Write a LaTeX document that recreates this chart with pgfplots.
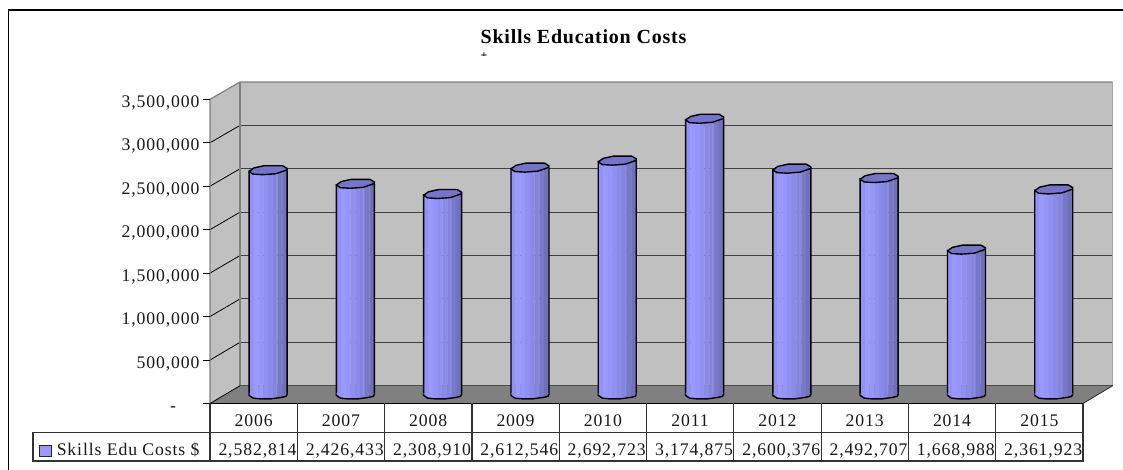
\documentclass[border=0pt]{standalone}
\usepackage{fontspec}
\setmainfont[LetterSpace=5]{Liberation Serif}
\newfontfamily\titlefont[LetterSpace=3.8]{Liberation Serif}
\usepackage{pgfplots}
\usepackage{pgfplotstable}
\pgfplotsset{compat=1.18}

\definecolor{wall}{HTML}{C0C0C0}
\definecolor{floorc}{HTML}{808080}
\definecolor{capc}{HTML}{7474C8}
\definecolor{sA}{HTML}{9292F4}
\definecolor{sB}{HTML}{9999FF}
\definecolor{sC}{HTML}{9696FA}
\definecolor{sD}{HTML}{9090F2}
\definecolor{sE}{HTML}{8A8AE8}
\definecolor{sF}{HTML}{8484DC}
\definecolor{sG}{HTML}{7878C8}
\definecolor{sH}{HTML}{7070BC}

\pgfplotstableread{
year cost
2006 2582814
2007 2426433
2008 2308910
2009 2612546
2010 2692723
2011 3174875
2012 2600376
2013 2492707
2014 1668988
2015 2361923
}\costs

% End cap and foot of an eight-sided column, in units of 0.75pt.
\pgfdeclareplotmark{cyltop}{%
  \path[x=.75pt,y=.75pt,fill=capc,draw=black,line width=1.05pt,line join=round]
    (-19,-1)--(-14,2.5)--(-4,4.7)--(14.5,4.7)--(19,2)--(19,0.5)--(8,-3.3)--(-5,-4.3)--(-15,-3.7)--cycle;}
\pgfdeclareplotmark{cylfoot}{%
  \begin{scope}[x=.75pt,y=.75pt]
    \fill[sA] (-19,1)--(-14.25,1)--(-14.25,-3.2)--(-15,-3.2)--(-19,-0.5)--cycle;
    \fill[sB] (-14.25,1) rectangle (-9.5,-3.6);
    \fill[sC] (-9.5,1) rectangle (-4.75,-3.9);
    \fill[sD] (-4.75,1) rectangle (0,-3.9);
    \fill[sE] (0,1) rectangle (4.75,-3.9);
    \fill[sF] (4.75,1) rectangle (9.5,-3.6);
    \fill[sG] (9.5,1) rectangle (14.25,-2.4);
    \fill[sH] (14.25,1)--(19,1)--(19,-0.5)--(14.25,-2.4)--cycle;
    \draw[black,line width=1.05pt,line join=round]
      (-19,0.5)--(-19,-0.5)--(-15,-3.2)--(-8,-4)--(3,-4)--(14,-2.4)--(18,-1.4)--(19,0.5);
  \end{scope}}

% One vertical facet of the columns: offset, width, colour.
\newcommand\facet[3]{\addplot[ybar,bar shift=#1pt,bar width=#2pt,fill=#3,draw=none,
    xshift=10.8pt,yshift=6.45pt] table[x=year,y=cost]{\costs};}

\begin{document}
\begin{tikzpicture}
\useasboundingbox (-157.5pt,-49.875pt) rectangle (684.75pt,302.625pt);

% Walls, floor and value grid of the box.
\begin{scope}[x=.75pt,y=-.75pt,shift={(-157.5pt,302.625pt)}]
  \fill[white] (0,0) rectangle (1123,470);
  \draw[black,line width=1.1pt] (8.5,470)--(8.5,10)--(1123,10);
  \fill[wall] (240,82) rectangle (1112.7,385.7);
  \fill[wall] (210,99.3)--(240,82)--(240,385.7)--(210,403.5)--cycle;
  \fill[floorc] (210,403.5)--(240,385.7)--(1112.7,385.7)--(1083,403.5)--cycle;
  \foreach \i in {1,...,6}{
    \draw[black,line width=.6pt] (210,{403.5-43.457*\i})--(240,{385.7-43.385*\i});
    \draw[black!75,line width=.8pt] (240,{385.7-43.385*\i})--(1112.7,{385.7-43.385*\i});
  }
  \draw[black!50,line width=.9pt] (210,403.5)--(210,99.3)--(240,82)--(1112.7,82);
  \draw[black!50,line width=.9pt] (240,82)--(240,385.7);
  \draw[black!35,line width=1.1pt] (1112.7,82)--(1112.7,385.7);
  \draw[black!70,line width=.6pt] (240,385.7)--(1112.7,385.7);
  \draw[black!85,line width=.6pt] (1083,403.5)--(1112.7,385.7);
  \draw[black,line width=.6pt] (210,403.5)--(240,385.7);
\end{scope}

\begin{axis}[
  at={(0,0)},anchor=south west,
  scale only axis,width=654.75pt,height=228.15pt,
  clip=false,
  xmin=2005.5,xmax=2015.5,ymin=0,ymax=3500000,
  axis line style={draw=none},
  scaled y ticks=false,
  ytick pos=left,
  xtick={2006,2007,2008,2009,2010,2011,2012,2013,2014,2015},
  xticklabels={2006,2007,2008,2009,2010,2011,2012,2013,2014,2015},
  ytick={0,500000,1000000,1500000,2000000,2500000,3000000,3500000},
  yticklabels={-\hspace*{17.5pt},{500,000},{1,000,000},{1,500,000},{2,000,000},{2,500,000},{3,000,000},{3,500,000}},
  xtick style={draw=none},
  ytick style={draw=black,line width=.6pt},
  tick align=outside,
  major tick length=4.9pt,
  tick label style={font=\fontsize{13.28}{15}\selectfont,text=black!90},
  x tick label style={anchor=base,yshift=-12pt},
  y tick label style={anchor=base east,yshift=-6pt,xshift=.5pt},
]
% Column bodies, one bar series per facet.
\facet{-12.47}{3.6}{sA}
\facet{-8.9}{3.6}{sB}
\facet{-5.34}{3.6}{sC}
\facet{-1.78}{3.6}{sD}
\facet{1.78}{3.6}{sE}
\facet{5.34}{3.6}{sF}
\facet{8.9}{3.6}{sG}
\facet{12.47}{3.6}{sH}
\facet{6.1}{.5}{sD}
\facet{-14.25}{1.05}{black}
\facet{14.25}{1.05}{black}
% Foot at the base of each column and cap at its value.
\addplot[only marks,mark=cylfoot,xshift=10.8pt,yshift=6.45pt] table[x=year,y expr=0]{\costs};
\addplot[only marks,mark=cyltop,xshift=10.8pt,yshift=6.45pt] table[x=year,y=cost]{\costs};
\end{axis}

% Title and data table.
\begin{scope}[x=.75pt,y=-.75pt,shift={(-157.5pt,302.625pt)}]
  \node[anchor=base,font=\titlefont\bfseries\fontsize{15}{18}\selectfont] at (583.5,44) {Skills Education Costs};
  \begin{scope}
    \clip (470,49) rectangle (500,56);
    \node[font=\bfseries\fontsize{9}{10}\selectfont,inner sep=0pt] at (484,56) {+};
  \end{scope}
  \draw[black!80,line width=.9pt] (33,432.7) rectangle (1083,461);
  \draw[black!80,line width=.9pt] (1083,403.5)--(1083,432.7);
  \draw[black,line width=1.3pt] (210,403.5)--(1083,403.5);
  \foreach \i in {0,...,9}{
    \draw[black!80,line width=.9pt] ({210+87.3*\i},403.5)--({210+87.3*\i},461);
  }
  \filldraw[fill=sB,draw=black!85,line width=.75pt] (39.5,446) rectangle (52,456.5);
  \node[anchor=base west,inner sep=0pt,font=\fontsize{13.28}{15}\selectfont,text=black!90] at (56.5,456) {Skills Edu Costs \$};
  \foreach \i/\v in {1/{2,582,814},2/{2,426,433},3/{2,308,910},4/{2,612,546},5/{2,692,723},6/{3,174,875},7/{2,600,376},8/{2,492,707},9/{1,668,988},10/{2,361,923}}{
    \node[anchor=base east,inner sep=0pt,font=\fontsize{13.28}{15}\selectfont,text=black!90] at ({210+87.3*\i-0.6},456) {\v};
  }
\end{scope}
\end{tikzpicture}
\end{document}
